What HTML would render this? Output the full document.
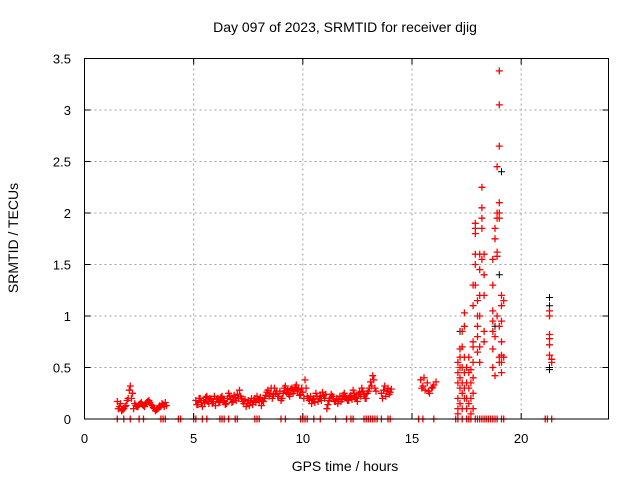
<!DOCTYPE html>
<html><head><meta charset="utf-8"><style>
body{margin:0;background:#fff}
svg text{font-family:"Liberation Sans",sans-serif;font-size:13px;fill:#000}
</style></head><body>
<svg width="640" height="480" viewBox="0 0 640 480" id="chart">
<text x="345" y="32" text-anchor="middle" style="font-size:14px">Day 097 of 2023, SRMTID for receiver djig</text>
<text x="345" y="471" text-anchor="middle" style="font-size:14px">GPS time / hours</text>
<text transform="translate(18,238) rotate(-90)" text-anchor="middle" style="font-size:14px">SRMTID / TECUs</text>
<g id="grid"></g>
<g id="marks"></g>
<rect x="84.5" y="58.5" width="524" height="360.5" fill="none" stroke="#000"/>
<g id="ticks"></g>
</svg>
<script>
const xTicks=[0,5,10,15,20];
const yTicks=[0,0.5,1,1.5,2,2.5,3,3.5];
const yTickLabels=["0","0.5","1","1.5","2","2.5","3","3.5"];
const c1x=[1.5,1.6,1.7,1.8,1.9,2.0,2.1,2.2,2.3,2.4,2.5,2.6,2.7,2.8,2.9,3.0,3.1,3.2,3.3,3.4,3.5,3.6,3.7];
const c1y=[.17,.12,.08,.1,.13,.2,.32,.25,.15,.12,.14,.16,.13,.15,.17,.16,.13,.1,.09,.11,.12,.14,.16];
const c1y2=[.1,.15,.09,.12,.18,.28,.2,.1,.13,.12,.15,.14,.12,.16,.18,.14,.11,.08,.1,.13,.15,.12,.13];
const c2y=[.18,.14,.2,.12,.16,.22,.15,.19,.17,.13,
.2,.16,.22,.18,.15,.25,.19,.17,.21,.24,
.28,.2,.15,.12,.18,.16,.14,.2,.22,.17,
.13,.17,.23,.28,.25,.2,.3,.27,.22,.18,
.25,.32,.28,.22,.3,.27,.33,.29,.24,.26,
.38,.22,.18,.15,.2,.25,.17,.22,.26,.2,
.1,.18,.24,.2,.17,.15,.22,.19,.25,.2,
.18,.23,.28,.21,.17,.26,.3,.24,.2,.27,.36,.42,.3];
const c2y2=[.14,.2,.16,.18,.21,.17,.2,.15,.22,.19,
.17,.21,.18,.14,.2,.22,.16,.23,.18,.2,
.22,.17,.19,.15,.13,.2,.18,.16,.19,.21,
.18,.2,.26,.22,.3,.24,.25,.22,.27,.2,
.3,.26,.24,.29,.25,.31,.28,.23,.3,.2,
.3,.2,.22,.19,.16,.22,.2,.18,.23,.24,
.14,.2,.22,.17,.2,.19,.17,.23,.21,.18,
.22,.19,.25,.2,.24,.22,.27,.2,.25,.3,.32,.38,.27];
const c3x=[13.6,13.7,13.8,13.9,14.0,13.65,13.75,13.85,13.95,14.05];
const c3y=[.25,.28,.22,.3,.26,.2,.32,.27,.24,.29];
const c4x=[15.4,15.5,15.6,15.7,15.8,15.9,16.0,16.1,15.45,15.55,15.75,15.95];
const c4y=[.38,.32,.28,.35,.25,.3,.33,.36,.3,.4,.27,.31];
const stormX=[17.1,17.1,17.1,17.1,17.1,17.1,17.2,17.2,17.2,17.2,17.2,17.2,17.3,17.3,17.3,17.3,17.3,17.3,17.4,17.4,17.4,17.4,17.4,17.4,17.5,17.5,17.5,17.5,17.6,17.6,17.6,17.6,17.7,17.7,17.7,17.7,17.8,17.8,17.8,17.8,17.8,17.8,17.8,17.8,17.9,17.9,17.9,17.9,17.9,17.9,18.0,18.0,18.0,18.0,18.0,18.1,18.1,18.1,18.1,18.1,18.1,18.2,18.2,18.2,18.2,18.2,18.3,18.3,18.3,18.3,18.3,18.7,18.7,18.7,18.7,18.7,18.7,18.7,18.8,18.8,18.8,18.8,18.9,18.9,18.9,18.9,18.9,18.9,19.0,19.0,19.0,19.0,19.0,19.0,19.0,19.0,19.0,19.1,19.1,19.1,19.1,19.1,19.1,19.1,19.2,19.2,21.3,21.3,21.3,21.3,21.3,21.3,21.4,21.4];
const stormY=[.05,.1,.2,.35,.45,.55,.15,.3,.4,.5,.6,.68,.1,.25,.35,.5,.7,.85,.2,.3,.45,.6,.9,1.03,.1,.2,.35,.5,.15,.3,.45,.6,.05,.2,.35,.48,.1,.25,.4,.55,.7,.75,1.1,1.3,1.6,1.8,1.85,1.9,1.5,1.3,.65,.8,.9,1.0,1.15,1.2,1.45,1.6,1.0,.55,.7,1.55,1.85,1.95,2.05,2.25,1.6,1.4,1.2,.85,.75,.5,.68,.85,.95,1.05,1.3,1.55,.42,.8,1.85,1.75,1.0,1.58,1.62,2.45,2.0,1.95,1.95,2.0,2.1,2.65,3.05,3.38,.9,.6,.55,.95,.75,.62,.55,.45,1.2,1.1,.6,1.15,1.0,1.05,.82,.78,.72,.62,.58,.55];
const blackX=[19.1,19.0,21.3,21.3,21.3,17.2,18.8,21.3];
const blackY=[2.4,1.4,1.18,1.1,.5,.85,.9,.48];
const zeroX=[1.5,1.8,2.1,2.5,2.7,3.5,3.6,3.7,4.3,4.4,5.0,5.1,5.4,5.6,6.2,6.3,6.4,6.6,6.9,7.0,7.8,7.9,8.0,9.0,9.2,9.9,10.0,10.1,10.2,10.5,10.8,11.5,12.0,12.2,12.3,12.8,12.9,13.0,13.1,13.2,13.3,13.4,13.6,13.9,14.0,15.3,15.5,16.0,17.0,17.1,17.3,17.5,17.6,17.7,17.9,18.0,18.1,18.2,18.3,18.4,18.5,18.6,18.7,18.8,18.9,19.1,19.2,21.1,21.2,21.4];
const X0=84.5,X1=608.5,XMAX=24,Y0=419,Y1=58.5,YMAX=3.5;
const sx=v=>X0+(X1-X0)*v/XMAX, sy=v=>Y0-(Y0-Y1)*v/YMAX;
const NS="http://www.w3.org/2000/svg";
const grid=document.getElementById('grid'),ticks=document.getElementById('ticks'),marks=document.getElementById('marks');
function mk(tag,attrs,parent){const e=document.createElementNS(NS,tag);for(const k in attrs)e.setAttribute(k,attrs[k]);parent.appendChild(e);return e;}
xTicks.forEach(t=>{const x=sx(t);
 if(t>0){const g=mk('line',{x1:x,x2:x,y1:Y1,y2:Y0,stroke:'#a0a0a0','stroke-dasharray':'2,3'},grid);
 
 }
 const tk=mk('path',{d:`M${x} ${Y0}v-6M${x} ${Y1}v6`,stroke:'#000'},ticks);
 
 
 const tl=mk('text',{x:x,y:443,'text-anchor':'middle'},ticks);tl.textContent=String(t);
 
 });
yTicks.forEach((t,i)=>{const y=sy(t);
 if(t>0&&t<YMAX){const g=mk('line',{x1:X0,x2:X1,y1:y,y2:y,stroke:'#a0a0a0','stroke-dasharray':'2,3'},grid);
 
 }
 const tk=mk('path',{d:`M${X0} ${y}h6M${X1} ${y}h-6`,stroke:'#000'},ticks);
 
 
 const tl=mk('text',{x:71,y:y+5,'text-anchor':'end'},ticks);tl.textContent=yTickLabels[i];
 
 });
function plus(xs,ys){let d='';for(let i=0;i<xs.length;i++){const x=sx(xs[i]),y=sy(ys[i]);d+=`M${(x-3.5).toFixed(1)} ${y.toFixed(1)}h7M${x.toFixed(1)} ${(y-3.5).toFixed(1)}v7`;}return d;}
let bd=plus(blackX,blackY);
const bp=mk('path',{d:bd,stroke:'#000',fill:'none'},marks);


const c2x=c2y.map((_,i)=>5.1+i*0.1), c2x2=c2y2.map((_,i)=>5.15+i*0.1), c1x2=c1x.map(v=>v+0.05);
let rd=plus(c1x,c1y)+plus(c1x2,c1y2)+plus(c2x,c2y)+plus(c2x2,c2y2)+plus(c3x,c3y)+plus(c4x,c4y)+plus(stormX,stormY)+plus(zeroX,zeroX.map(()=>0));
const rp=mk('path',{d:rd,stroke:'#ff0000','stroke-width':'1.3',fill:'none'},marks);


</script>
</body></html>
